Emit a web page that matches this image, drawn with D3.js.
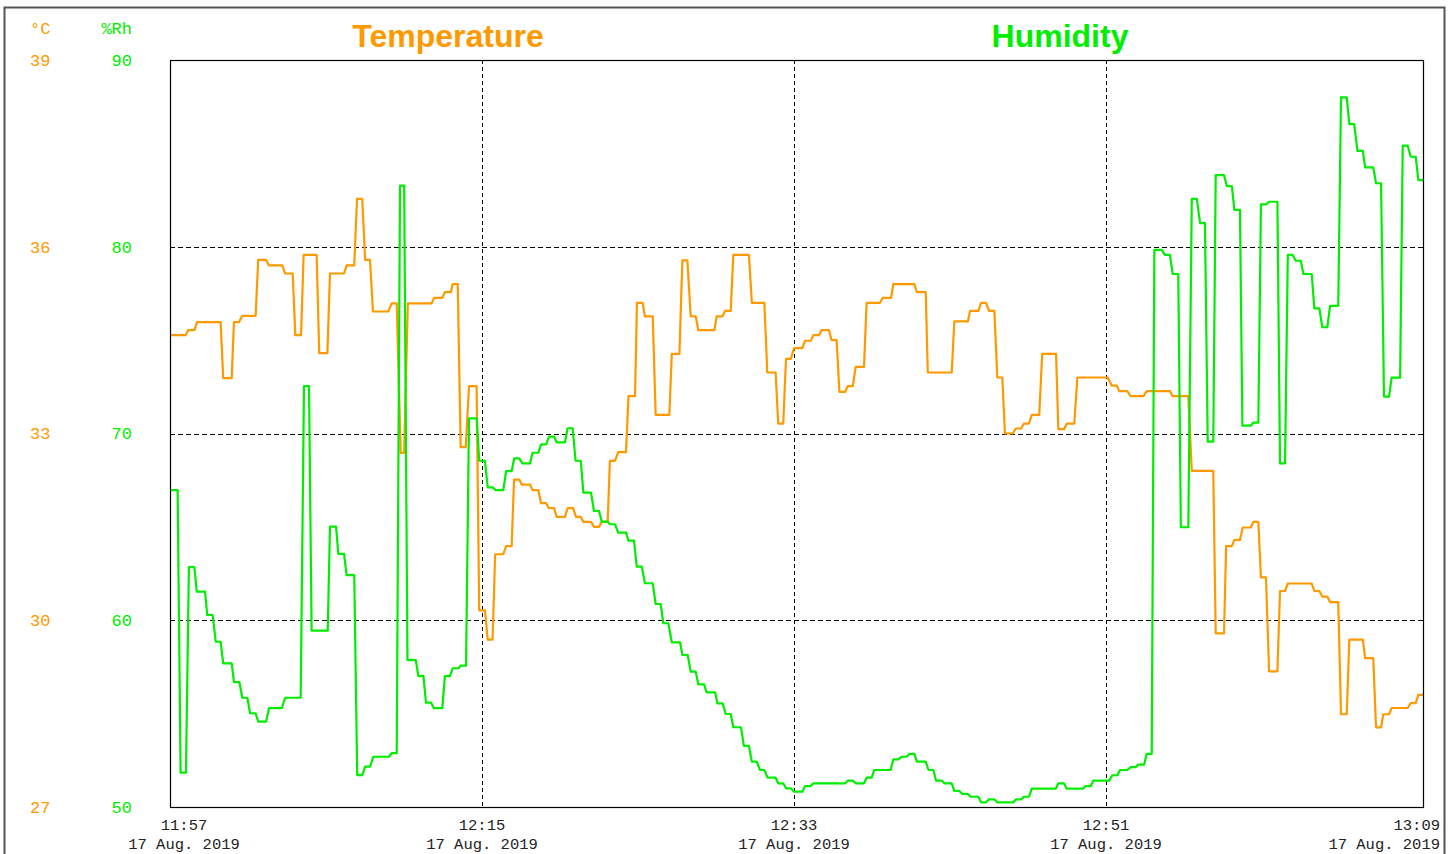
<!DOCTYPE html>
<html>
<head>
<meta charset="utf-8">
<script src="https://cdn.jsdelivr.net/npm/d3@7"></script>
<style>
    body { margin: 0; background: #fff; }
    svg { display: block; }
</style>
</head>
<body>
<svg id="chart" width="1449" height="854"></svg>
<script>
// time axis: minutes after 11:57, 17 Aug. 2019 (plot runs a little past 13:09)
const startTime = new Date(2019, 7, 17, 11, 57);
const endMinutes = 72.29;
const timeTicks = [0, 18, 36, 54, 72];
const timeGrid = [18, 36, 54];

const tempTicks = [27, 30, 33, 36, 39];
const humTicks = [50, 60, 70, 80, 90];
const humGrid = [60, 70, 80];

// [minutes, °C]
const tempPts = [[0,34.58],[0.90,34.58],[1.05,34.66],[1.41,34.66],[1.56,34.79],[2.92,34.79],[3.07,33.89],[3.56,33.89],[3.69,34.79],[3.98,34.79],[4.17,34.89],[4.94,34.89],[5.09,35.79],[5.54,35.79],[5.71,35.70],[6.48,35.70],[6.64,35.57],[7.08,35.57],[7.23,34.58],[7.56,34.58],[7.71,35.87],[8.46,35.87],[8.61,34.29],[9.08,34.29],[9.23,35.57],[10.04,35.57],[10.19,35.70],[10.63,35.70],[10.79,36.77],[11.09,36.77],[11.26,35.79],[11.54,35.79],[11.71,34.96],[12.59,34.96],[12.79,35.09],[13.08,35.09],[13.31,32.69],[13.51,32.69],[13.72,35.09],[15.10,35.09],[15.23,35.18],[15.71,35.18],[15.86,35.27],[16.20,35.27],[16.31,35.40],[16.60,35.40],[16.77,32.78],[17.06,32.78],[17.25,33.76],[17.69,33.76],[17.84,30.16],[18.17,30.16],[18.33,29.69],[18.61,29.69],[18.76,31.06],[19.23,31.06],[19.39,31.19],[19.71,31.19],[19.85,32.26],[20.15,32.26],[20.29,32.18],[20.77,32.18],[20.92,32.09],[21.25,32.09],[21.41,31.88],[21.70,31.88],[21.87,31.80],[22.16,31.80],[22.31,31.66],[22.79,31.66],[22.94,31.80],[23.26,31.80],[23.42,31.66],[23.70,31.66],[23.85,31.58],[24.29,31.58],[24.46,31.50],[24.75,31.50],[24.91,31.58],[25.25,31.58],[25.38,32.56],[25.67,32.56],[25.86,32.70],[26.31,32.70],[26.45,33.60],[26.83,33.60],[26.94,35.10],[27.27,35.10],[27.40,34.88],[27.85,34.88],[28.02,33.30],[28.81,33.30],[28.95,34.28],[29.39,34.28],[29.56,35.78],[29.85,35.78],[30.04,34.88],[30.33,34.88],[30.48,34.66],[31.41,34.66],[31.54,34.88],[31.87,34.88],[32.02,34.97],[32.35,34.97],[32.50,35.87],[33.40,35.87],[33.57,35.10],[34.29,35.10],[34.46,33.98],[34.94,33.98],[35.09,33.16],[35.38,33.16],[35.54,34.20],[35.82,34.20],[36.00,34.37],[36.48,34.37],[36.64,34.49],[36.97,34.49],[37.12,34.58],[37.44,34.58],[37.60,34.66],[38.02,34.66],[38.17,34.50],[38.46,34.50],[38.62,33.67],[38.95,33.67],[39.10,33.76],[39.39,33.76],[39.56,34.07],[40.04,34.07],[40.19,35.10],[40.96,35.10],[41.12,35.18],[41.60,35.18],[41.73,35.40],[42.94,35.40],[43.09,35.27],[43.60,35.27],[43.72,33.98],[45.10,33.98],[45.25,34.80],[46.03,34.80],[46.16,34.97],[46.64,34.97],[46.79,35.10],[47.08,35.10],[47.25,34.97],[47.56,34.97],[47.73,33.90],[48.02,33.90],[48.17,33.00],[48.62,33.00],[48.80,33.08],[49.10,33.08],[49.27,33.16],[49.56,33.16],[49.72,33.30],[50.15,33.30],[50.32,34.28],[51.12,34.28],[51.25,33.07],[51.58,33.07],[51.74,33.16],[52.17,33.16],[52.35,33.90],[54.10,33.90],[54.33,33.77],[54.62,33.77],[54.77,33.68],[55.23,33.68],[55.42,33.60],[56.16,33.60],[56.35,33.68],[57.69,33.68],[57.85,33.60],[58.75,33.60],[58.95,32.40],[60.19,32.40],[60.33,29.79],[60.81,29.79],[60.93,31.19],[61.26,31.19],[61.41,31.29],[61.73,31.29],[61.89,31.49],[62.35,31.49],[62.50,31.58],[62.79,31.58],[62.94,30.69],[63.23,30.69],[63.41,29.18],[63.89,29.18],[64.04,30.47],[64.33,30.47],[64.49,30.59],[65.87,30.59],[66.02,30.47],[66.31,30.47],[66.48,30.38],[66.77,30.38],[66.93,30.29],[67.40,30.29],[67.56,28.49],[67.89,28.49],[68.04,29.69],[68.82,29.69],[68.95,29.39],[69.42,29.39],[69.58,28.28],[69.87,28.28],[70.00,28.49],[70.33,28.49],[70.48,28.59],[71.41,28.59],[71.58,28.67],[71.87,28.67],[72.02,28.80],[72.29,28.80]];

// [minutes, %Rh]
const humPts = [[0,66.97],[0.44,66.97],[0.61,51.84],[0.92,51.84],[1.09,62.84],[1.41,62.84],[1.54,61.53],[2.02,61.53],[2.15,60.28],[2.46,60.28],[2.64,58.85],[2.92,58.85],[3.07,57.69],[3.56,57.69],[3.69,56.69],[4.00,56.69],[4.17,55.85],[4.46,55.85],[4.62,55.02],[4.94,55.02],[5.09,54.57],[5.54,54.57],[5.71,55.29],[6.45,55.29],[6.64,55.85],[7.54,55.85],[7.73,72.54],[8.02,72.54],[8.17,59.44],[9.10,59.44],[9.23,65.01],[9.58,65.01],[9.71,63.55],[10.04,63.55],[10.19,62.42],[10.63,62.42],[10.80,51.71],[11.09,51.71],[11.26,52.16],[11.54,52.16],[11.73,52.69],[12.63,52.69],[12.79,52.88],[13.08,52.88],[13.27,83.27],[13.51,83.27],[13.70,57.87],[14.18,57.87],[14.33,57.01],[14.62,57.01],[14.77,55.59],[15.06,55.59],[15.23,55.29],[15.71,55.29],[15.86,57.01],[16.15,57.01],[16.31,57.43],[16.64,57.43],[16.77,57.57],[17.08,57.57],[17.25,70.81],[17.69,70.81],[17.84,68.54],[18.17,68.54],[18.33,67.12],[18.61,67.12],[18.79,66.97],[19.23,66.97],[19.39,67.99],[19.71,67.99],[19.86,68.67],[20.15,68.67],[20.33,68.40],[20.77,68.40],[20.92,68.97],[21.25,68.97],[21.41,69.42],[21.70,69.42],[21.87,69.83],[22.16,69.83],[22.31,69.53],[22.79,69.53],[22.94,70.28],[23.23,70.28],[23.40,68.54],[23.70,68.54],[23.85,66.83],[24.29,66.83],[24.46,65.85],[24.75,65.85],[24.91,65.28],[25.25,65.28],[25.38,65.14],[25.67,65.14],[25.86,64.69],[26.31,64.69],[26.45,64.26],[26.77,64.26],[26.93,62.87],[27.22,62.87],[27.40,61.98],[27.85,61.98],[28.02,60.87],[28.31,60.87],[28.46,59.84],[28.75,59.84],[28.95,58.82],[29.43,58.82],[29.56,58.14],[29.87,58.14],[30.04,57.25],[30.33,57.25],[30.48,56.57],[30.81,56.57],[30.96,56.14],[31.45,56.14],[31.58,55.55],[31.89,55.55],[32.06,54.98],[32.35,54.98],[32.50,54.27],[32.94,54.27],[33.11,53.27],[33.40,53.27],[33.57,52.43],[33.85,52.43],[34.04,51.98],[34.29,51.98],[34.48,51.57],[34.94,51.57],[35.09,51.27],[35.38,51.27],[35.54,51.00],[35.82,51.00],[36.00,50.82],[36.48,50.82],[36.64,51.12],[36.97,51.12],[37.12,51.27],[38.95,51.27],[39.10,51.41],[39.39,51.41],[39.56,51.27],[40.04,51.27],[40.19,51.57],[40.48,51.57],[40.63,51.98],[41.58,51.98],[41.73,52.55],[42.02,52.55],[42.21,52.69],[42.50,52.69],[42.65,52.84],[42.94,52.84],[43.09,52.43],[43.60,52.43],[43.76,51.98],[44.04,51.98],[44.20,51.41],[44.53,51.41],[44.68,51.27],[45.10,51.27],[45.25,50.86],[45.54,50.86],[45.71,50.70],[46.03,50.70],[46.20,50.55],[46.64,50.55],[46.79,50.25],[47.08,50.25],[47.25,50.41],[47.56,50.41],[47.73,50.25],[48.66,50.25],[48.81,50.41],[49.10,50.41],[49.27,50.55],[49.56,50.55],[49.72,50.98],[51.10,50.98],[51.25,51.27],[51.58,51.27],[51.74,50.98],[52.66,50.98],[52.83,51.12],[53.12,51.12],[53.27,51.41],[54.18,51.41],[54.37,51.70],[54.66,51.70],[54.81,51.98],[55.23,51.98],[55.42,52.13],[55.71,52.13],[55.86,52.27],[56.20,52.27],[56.35,52.84],[56.64,52.84],[56.79,79.83],[57.21,79.83],[57.40,79.56],[57.69,79.56],[57.85,78.54],[58.17,78.54],[58.32,64.98],[58.75,64.98],[58.95,82.56],[59.24,82.56],[59.43,81.26],[59.71,81.26],[59.87,69.56],[60.19,69.56],[60.33,83.84],[60.81,83.84],[60.97,83.25],[61.26,83.25],[61.41,81.97],[61.73,81.97],[61.87,70.42],[62.35,70.42],[62.50,70.58],[62.79,70.58],[62.94,82.27],[63.23,82.27],[63.41,82.41],[63.89,82.41],[64.04,68.40],[64.33,68.40],[64.49,79.56],[64.77,79.56],[64.95,79.25],[65.24,79.25],[65.39,78.54],[65.87,78.54],[66.02,76.70],[66.31,76.70],[66.48,75.69],[66.77,75.69],[66.93,76.83],[67.40,76.83],[67.56,88.00],[67.89,88.00],[68.04,86.57],[68.32,86.57],[68.51,85.13],[68.82,85.13],[68.95,84.25],[69.42,84.25],[69.58,83.40],[69.87,83.40],[70.04,71.97],[70.33,71.97],[70.48,72.99],[70.97,72.99],[71.12,85.41],[71.41,85.41],[71.58,84.82],[71.87,84.82],[72.02,83.57],[72.29,83.57]];

const ORANGE = "#ff9900";
const GREEN = "#00ee00";
const MONO = "'Liberation Mono', 'Courier New', monospace";

const plot = {left: 170, right: 1423, top: 60, bottom: 807};

function toDate(m) {
    return new Date(startTime.getTime() + m * 60000);
}

const svg = d3.select("#chart");

const x = d3.scaleTime()
    .domain([startTime, toDate(endMinutes)])
    .range([plot.left, plot.right]);
const yTemp = d3.scaleLinear().domain([27, 39]).range([plot.bottom, plot.top]);
const yHum = d3.scaleLinear().domain([50, 90]).range([plot.bottom, plot.top]);

// outer frame
svg.append("rect")
    .attr("x", 4.5).attr("y", 7.5)
    .attr("width", 1440).attr("height", 870)
    .attr("fill", "none")
    .attr("stroke", "#555")
    .attr("stroke-width", 2);

// titles
svg.append("text")
    .attr("x", 448).attr("y", 47)
    .attr("text-anchor", "middle")
    .style("font", "bold 32px 'Liberation Sans', Arial, sans-serif")
    .attr("fill", ORANGE)
    .text("Temperature");
svg.append("text")
    .attr("x", 1060).attr("y", 47)
    .attr("text-anchor", "middle")
    .style("font", "bold 32px 'Liberation Sans', Arial, sans-serif")
    .attr("fill", GREEN)
    .text("Humidity");

// unit labels
svg.append("text")
    .attr("x", 30).attr("y", 28).attr("dy", "0.35em")
    .style("font-family", MONO).style("font-size", "17px")
    .attr("fill", ORANGE).text("°C");
svg.append("text")
    .attr("x", 132).attr("y", 28).attr("dy", "0.35em")
    .attr("text-anchor", "end")
    .style("font-family", MONO).style("font-size", "17px")
    .attr("fill", GREEN).text("%Rh");

// y tick labels
svg.append("g").selectAll("text")
    .data(tempTicks)
    .join("text")
    .attr("x", 30)
    .attr("y", d => yTemp(d))
    .attr("dy", "0.35em")
    .style("font-family", MONO).style("font-size", "17px")
    .attr("fill", ORANGE)
    .text(d => d);

svg.append("g").selectAll("text")
    .data(humTicks)
    .join("text")
    .attr("x", 132)
    .attr("y", d => yHum(d))
    .attr("dy", "0.35em")
    .attr("text-anchor", "end")
    .style("font-family", MONO).style("font-size", "17px")
    .attr("fill", GREEN)
    .text(d => d);

// grid
const grid = svg.append("g")
    .attr("stroke", "#000")
    .attr("stroke-width", 1);

grid.selectAll(".hgrid")
    .data(humGrid)
    .join("line")
    .attr("class", "hgrid")
    .attr("x1", plot.left).attr("x2", plot.right)
    .attr("y1", d => Math.round(yHum(d)) + 0.5)
    .attr("y2", d => Math.round(yHum(d)) + 0.5)
    .attr("stroke-dasharray", "5,3");

grid.selectAll(".vgrid")
    .data(timeGrid)
    .join("line")
    .attr("class", "vgrid")
    .attr("x1", d => Math.round(x(toDate(d))) + 0.5)
    .attr("x2", d => Math.round(x(toDate(d))) + 0.5)
    .attr("y1", plot.top).attr("y2", plot.bottom)
    .attr("stroke-dasharray", "4,3");

// series
svg.append("clipPath").attr("id", "plotClip")
    .append("rect")
    .attr("x", plot.left).attr("y", plot.top)
    .attr("width", plot.right - plot.left)
    .attr("height", plot.bottom - plot.top);

const tempLine = d3.line()
    .x(d => x(toDate(d[0])))
    .y(d => yTemp(d[1]));
const humLine = d3.line()
    .x(d => x(toDate(d[0])))
    .y(d => yHum(d[1]));

svg.append("path")
    .datum(tempPts)
    .attr("clip-path", "url(#plotClip)")
    .attr("fill", "none")
    .attr("stroke", ORANGE)
    .attr("stroke-width", 2.2)
    .attr("stroke-linejoin", "round")
    .attr("d", tempLine);

svg.append("path")
    .datum(humPts)
    .attr("clip-path", "url(#plotClip)")
    .attr("fill", "none")
    .attr("stroke", GREEN)
    .attr("stroke-width", 2.2)
    .attr("stroke-linejoin", "round")
    .attr("d", humLine);

// plot frame
svg.append("rect")
    .attr("x", plot.left + 0.5).attr("y", plot.top + 0.5)
    .attr("width", plot.right - plot.left)
    .attr("height", plot.bottom - plot.top)
    .attr("fill", "none")
    .attr("stroke", "#000")
    .attr("stroke-width", 1.2);

// time labels
const fmtTime = d3.timeFormat("%H:%M");
const fmtDate = d3.timeFormat("%d %b. %Y");
const last = timeTicks.length - 1;

const tl = svg.append("g").selectAll("g")
    .data(timeTicks)
    .join("g")
    .attr("transform", (d, i) => {
        let px = x(toDate(d));
        if (i === 0) px = 184;
        if (i === last) px = 1440;
        return `translate(${px},0)`;
    })
    .attr("text-anchor", (d, i) => i === last ? "end" : "middle")
    .style("font-family", MONO).style("font-size", "15.5px")
    .attr("fill", "#222");

tl.append("text").attr("y", 830).text(d => fmtTime(toDate(d)));
tl.append("text").attr("y", 849).text(d => fmtDate(toDate(d)));
</script>
</body>
</html>
